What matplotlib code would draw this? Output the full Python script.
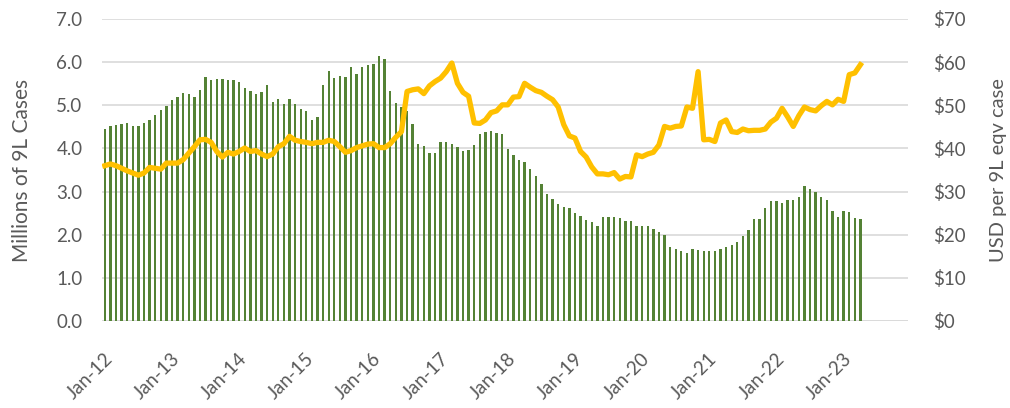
import numpy as np
import matplotlib
matplotlib.use('Agg')
import matplotlib.pyplot as plt
import matplotlib.transforms as mtransforms

# monthly volume, millions of 9L cases (Jan-12 .. Apr-23)
cases = [4.45, 4.51, 4.54, 4.56, 4.59, 4.53, 4.52, 4.59, 4.66, 4.78, 4.90, 4.99,
         5.13, 5.20, 5.29, 5.26, 5.20, 5.36, 5.65, 5.59, 5.60, 5.60, 5.58, 5.59,
         5.53, 5.41, 5.34, 5.26, 5.30, 5.48, 5.07, 5.15, 5.03, 5.15, 5.03, 4.92,
         4.86, 4.66, 4.73, 5.46, 5.79, 5.63, 5.68, 5.65, 5.89, 5.72, 5.88, 5.93,
         5.95, 6.14, 6.07, 5.33, 5.06, 4.97, 4.86, 4.56, 4.11, 4.05, 3.89, 3.89,
         4.15, 4.15, 4.11, 4.04, 3.93, 3.97, 4.08, 4.34, 4.38, 4.40, 4.35, 4.34,
         3.99, 3.84, 3.74, 3.69, 3.52, 3.36, 3.17, 2.95, 2.83, 2.71, 2.64, 2.63,
         2.50, 2.44, 2.34, 2.29, 2.20, 2.41, 2.41, 2.41, 2.39, 2.31, 2.32, 2.20,
         2.20, 2.20, 2.13, 2.07, 1.99, 1.72, 1.66, 1.63, 1.57, 1.66, 1.65, 1.63,
         1.63, 1.63, 1.68, 1.71, 1.76, 1.82, 1.97, 2.11, 2.37, 2.37, 2.61, 2.78,
         2.77, 2.73, 2.80, 2.80, 2.88, 3.12, 3.06, 2.98, 2.88, 2.80, 2.56, 2.42,
         2.56, 2.52, 2.38, 2.37]

# USD per 9L eqv case
price = [36.0, 36.4, 36.0, 35.4, 34.8, 34.3, 33.8, 34.3, 35.6, 35.4, 35.2, 36.6,
         36.6, 36.6, 37.4, 38.9, 40.4, 42.0, 42.1, 41.4, 39.3, 38.0, 39.1, 38.7,
         39.3, 40.1, 39.3, 39.5, 38.7, 38.1, 38.7, 40.4, 41.1, 42.8, 41.9, 41.6,
         41.4, 41.1, 41.4, 41.4, 41.9, 41.6, 40.4, 39.1, 39.5, 40.2, 40.6, 41.0,
         41.1, 40.2, 40.2, 41.1, 42.6, 43.9, 53.2, 53.6, 53.8, 52.7, 54.5, 55.5,
         56.3, 57.8, 59.8, 55.1, 53.0, 52.1, 45.9, 45.8, 46.6, 48.3, 48.7, 50.1,
         50.1, 51.9, 52.0, 55.1, 54.2, 53.4, 53.0, 52.1, 51.3, 49.6, 45.5, 42.9,
         42.4, 39.3, 38.0, 35.7, 34.1, 34.1, 33.9, 34.4, 32.9, 33.5, 33.4, 38.5,
         38.1, 38.7, 39.1, 40.8, 45.1, 44.7, 45.1, 45.2, 49.6, 49.3, 57.8, 42.0,
         42.1, 41.6, 45.9, 46.6, 43.9, 43.7, 44.5, 44.1, 44.2, 44.2, 44.5, 46.1,
         47.0, 49.3, 47.3, 45.1, 47.6, 49.6, 49.0, 48.7, 49.9, 50.9, 50.1, 51.4,
         50.9, 57.1, 57.5, 59.4]

year_labels = ['Jan-12', 'Jan-13', 'Jan-14', 'Jan-15', 'Jan-16', 'Jan-17',
               'Jan-18', 'Jan-19', 'Jan-20', 'Jan-21', 'Jan-22', 'Jan-23']

plt.rcParams['font.family'] = ['Lato', 'DejaVu Sans']
txt = '#595959'
grid = '#d9d9d9'

fig = plt.figure(figsize=(10.1, 4.08), dpi=100)
ax = fig.add_axes([102/1010, 1 - 321/408, 806/1010, 302/408])
ax2 = ax.twinx()

x = np.arange(len(cases))
ax.bar(x, cases, width=0.42, color='#548235', zorder=2)
ax2.plot(x, price, color='#ffc000', lw=3.8, solid_joinstyle='round', zorder=3)

ax.set_xlim(-0.5, 143.5)
ax.set_ylim(0, 7)
ax2.set_ylim(0, 70)
ax.set_yticks(np.arange(0, 7.1, 1))
ax.set_yticklabels(['%.1f' % v for v in np.arange(0, 7.1, 1)])
ax2.set_yticks(np.arange(0, 71, 10))
ax2.set_yticklabels(['$%d' % v for v in range(0, 71, 10)])

ax.grid(axis='y', color=grid, lw=1.2, zorder=0)
ax.set_axisbelow(True)
for a in (ax, ax2):
    for s in a.spines.values():
        s.set_visible(False)
ax.axhline(0, color=grid, lw=1.2, zorder=1)

ax.set_xticks([12 * i for i in range(len(year_labels))])
ax.set_xticklabels(year_labels)
ax.tick_params(axis='x', length=0, pad=25, labelsize=13.5, colors=txt)
ax.tick_params(axis='y', length=0, pad=14, labelsize=13.5, colors=txt)
ax2.tick_params(axis='y', length=0, pad=18, labelsize=13.5, colors=txt)
off = mtransforms.ScaledTranslation(5/100, 0, fig.dpi_scale_trans)
for lab in ax.get_xticklabels():
    lab.set_rotation(45)
    lab.set_rotation_mode('anchor')
    lab.set_ha('right')
    lab.set_va('center')
    lab.set_transform(lab.get_transform() + off)

ax.set_ylabel('Millions of 9L Cases', fontsize=15, color=txt)
ax.yaxis.set_label_coords(-70/806, 0.5)
ax2.set_ylabel('USD per 9L eqv case', fontsize=14.5, color=txt)
ax2.yaxis.set_label_coords(1 + 82/806, 0.5)

fig.savefig('out.png', dpi=100)
